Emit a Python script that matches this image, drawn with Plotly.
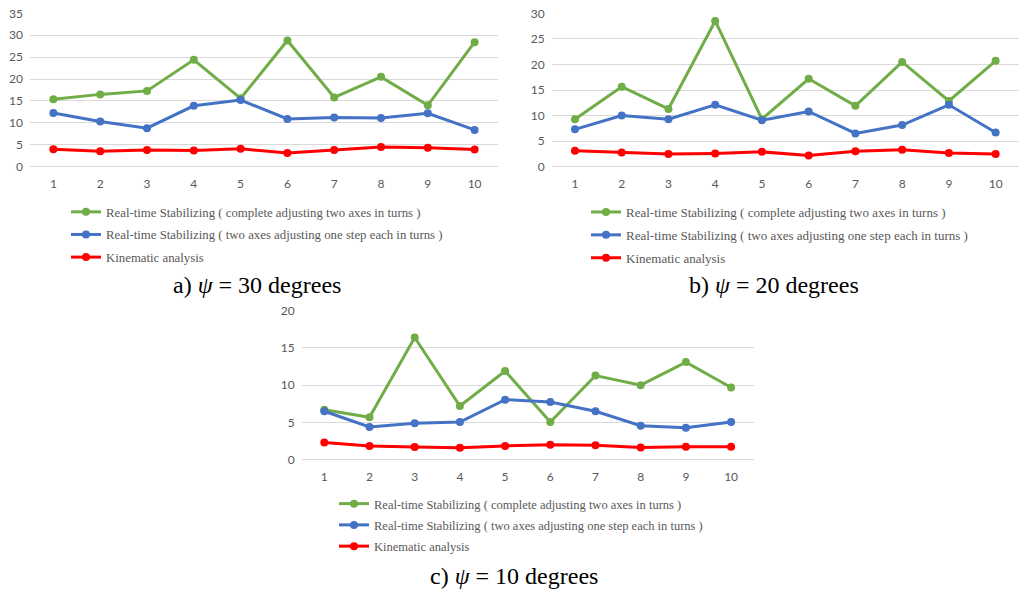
import plotly.graph_objects as go

runs = [1, 2, 3, 4, 5, 6, 7, 8, 9, 10]
names = [
    "Real-time Stabilizing ( complete adjusting two axes in turns )",
    "Real-time Stabilizing ( two axes adjusting one step each in turns )",
    "Kinematic analysis",
]
colors = ["#70AD47", "#4472C4", "#FF0000"]

# psi = 30 degrees
a_complete = [15.4, 16.5, 17.3, 24.4, 15.6, 28.8, 15.8, 20.5, 14.0, 28.4]
a_onestep = [12.25, 10.3, 8.8, 13.9, 15.2, 10.9, 11.2, 11.1, 12.2, 8.4]
a_kinematic = [4.0, 3.5, 3.8, 3.7, 4.1, 3.1, 3.8, 4.5, 4.3, 3.9]
# psi = 20 degrees
b_complete = [9.3, 15.65, 11.3, 28.5, 9.3, 17.2, 11.9, 20.5, 12.85, 20.7]
b_onestep = [7.3, 10.0, 9.3, 12.1, 9.1, 10.8, 6.5, 8.15, 12.1, 6.7]
b_kinematic = [3.1, 2.8, 2.5, 2.6, 2.9, 2.2, 3.0, 3.3, 2.7, 2.5]
# psi = 10 degrees
c_complete = [6.7, 5.7, 16.4, 7.2, 11.9, 5.05, 11.3, 10.0, 13.1, 9.7]
c_onestep = [6.5, 4.4, 4.9, 5.05, 8.05, 7.75, 6.5, 4.55, 4.3, 5.05]
c_kinematic = [2.3, 1.85, 1.7, 1.6, 1.85, 2.0, 1.95, 1.65, 1.75, 1.75]

captions = ["a) <i>ψ</i> = 30 degrees", "b) <i>ψ</i> = 20 degrees", "c) <i>ψ</i> = 10 degrees"]

panels = [
    ([a_complete, a_onestep, a_kinematic], "x", "y", "legend", "a"),
    ([b_complete, b_onestep, b_kinematic], "x2", "y2", "legend2", "b"),
    ([c_complete, c_onestep, c_kinematic], "x3", "y3", "legend3", "c"),
]

fig = go.Figure()
for series, xa, ya, lg, key in panels:
    for i, (s, nm, col) in enumerate(zip(series, names, colors)):
        fig.add_trace(go.Scatter(
            x=runs, y=s, name=nm, mode="lines+markers",
            line=dict(color=col, width=3),
            marker=dict(color=col, size=8),
            xaxis=xa, yaxis=ya, legend=lg, legendgroup=f"{key}{i}",
        ))

W, H = 1019, 589
def px_x(a, b):
    return [a / W, min(b / W, 1.0)]
def px_y(top, bottom):
    return [1 - bottom / H, 1 - top / H]

tickfont = dict(family="Lato, Liberation Sans, sans-serif", size=12, color="#595959")
grid = "#D9D9D9"

def xaxis(dom, anchor):
    return dict(domain=dom, anchor=anchor, range=[0.5, 10.5], tickmode="array",
                tickvals=runs, ticktext=[str(r) for r in runs], showgrid=False,
                zeroline=False, showline=False, ticks="", tickfont=tickfont,
                ticklabelstandoff=8, automargin=False)

def yaxis(dom, anchor, ymax):
    return dict(domain=dom, anchor=anchor, range=[0, ymax], dtick=5, showgrid=True,
                gridcolor=grid, gridwidth=1, zeroline=True, zerolinecolor=grid,
                zerolinewidth=1, showline=False, ticks="", tickfont=tickfont,
                ticklabelstandoff=6, automargin=False)

def legend(xp, yp, fs, gap):
    return dict(x=xp / W, y=1 - yp / H, xanchor="left", yanchor="top",
                font=dict(family="Liberation Serif, Times New Roman, serif", size=fs,
                          color="#595959"),
                bgcolor="rgba(0,0,0,0)", orientation="v",
                tracegroupgap=gap, itemwidth=30, traceorder="grouped")

fig.update_layout(
    width=W, height=H, margin=dict(l=0, r=0, t=0, b=0, autoexpand=False),
    paper_bgcolor="white", plot_bgcolor="white", showlegend=True,
    xaxis=xaxis(px_x(30, 498), "y"),
    yaxis=yaxis(px_y(13.3, 166.7), "x", 35),
    xaxis2=xaxis(px_x(551.6, 1020), "y2"),
    yaxis2=yaxis(px_y(13.3, 166.7), "x2", 30),
    xaxis3=xaxis(px_x(301.7, 753.7), "y3"),
    yaxis3=yaxis(px_y(310.7, 459.7), "x3", 20),
    legend=legend(66, 197, 12.8, 3),
    legend2=legend(586, 197, 13, 3),
    legend3=legend(334, 489, 12.5, 2),
)

capfont = dict(family="Liberation Serif, Times New Roman, serif", size=24, color="black")
for txt, cx, cy in zip(captions, [257, 774, 514], [285, 285, 576]):
    fig.add_annotation(text=txt, x=cx / W, y=1 - cy / H, xref="paper", yref="paper",
                       xanchor="center", yanchor="middle", showarrow=False, font=capfont)

fig.write_html("out.html", config={"displayModeBar": False},
               post_script="document.body.style.margin='0';document.body.style.padding='0';")
